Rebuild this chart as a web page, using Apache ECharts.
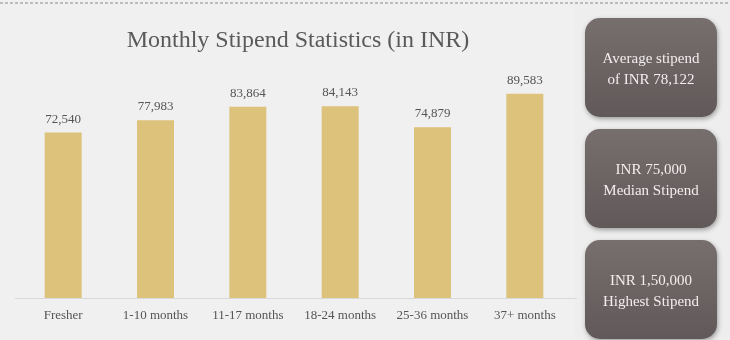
<!DOCTYPE html>
<html><head><meta charset="utf-8">
<script src="https://cdn.jsdelivr.net/npm/echarts@6/dist/echarts.min.js"></script>
<style>html,body{margin:0;padding:0;background:#efeeee;}#c{width:730px;height:340px;}</style>
</head><body><div id="c"></div>
<script>
const categories = ["Fresher","1-10 months","11-17 months","18-24 months","25-36 months","37+ months"];
const stipends = [72540, 77983, 83864, 84143, 74879, 89583];
const title = "Monthly Stipend Statistics (in INR)";
const boxTexts = ["Average stipend\nof INR 78,122", "INR 75,000\nMedian Stipend", "INR 1,50,000\nHighest Stipend"];

const chart = echarts.init(document.getElementById('c'));
const serif = "'Liberation Serif', 'DejaVu Serif', serif";
const boxTops = [18, 129, 240];
const graphics = [
  {type:'rect', shape:{x:0,y:0,width:575,height:340}, style:{fill:'#f1f0f0'}, z:-10, silent:true},
  {type:'line', shape:{x1:0,y1:3,x2:730,y2:3}, style:{stroke:'#8a8a8a', lineWidth:1, lineDash:[3,2]}, z:5},
  {type:'line', shape:{x1:15,y1:298.5,x2:577,y2:298.5}, style:{stroke:'#d9d9d9', lineWidth:1}, z:1}
];
boxTexts.forEach((t,i)=>{
  graphics.push({
    type:'rect', shape:{x:585,y:boxTops[i],width:132,height:99,r:15},
    style:{fill:new echarts.graphic.LinearGradient(0,0,0,1,[{offset:0,color:'#776e6e'},{offset:1,color:'#615959'}]),
      shadowBlur:5, shadowOffsetX:1, shadowOffsetY:2, shadowColor:'rgba(0,0,0,0.35)'}, z:10
  });
  graphics.push({
    type:'text', x:651, y:boxTops[i]+52,
    style:{text:t, fill:'#f2eeee', font:"15px "+serif, align:'center', verticalAlign:'middle', lineHeight:21}, z:11
  });
});

chart.setOption({
  backgroundColor:'#efeeee',
  animation:false,
  title:{text:title, left:293, top:24, textAlign:'center',
    textStyle:{fontFamily:serif, fontSize:24, fontWeight:'normal', color:'#5a5a5a'}},
  grid:{left:17, width:554, top:70, bottom:42, containLabel:false},
  xAxis:{type:'category', data:categories,
    axisLine:{show:false}, axisTick:{show:false},
    axisLabel:{interval:0, fontFamily:serif, fontSize:13, color:'#555', margin:11}},
  yAxis:{type:'value', min:0, max:100000, show:false, splitLine:{show:false}},
  series:[{type:'bar', data:stipends, barWidth:37,
    itemStyle:{color:'#dcc27a'},
    label:{show:true, position:'top', distance:7, fontFamily:serif, fontSize:13, color:'#555',
      formatter:p=>p.value.toLocaleString('en-US')}}],
  graphic:graphics
});
</script></body></html>
